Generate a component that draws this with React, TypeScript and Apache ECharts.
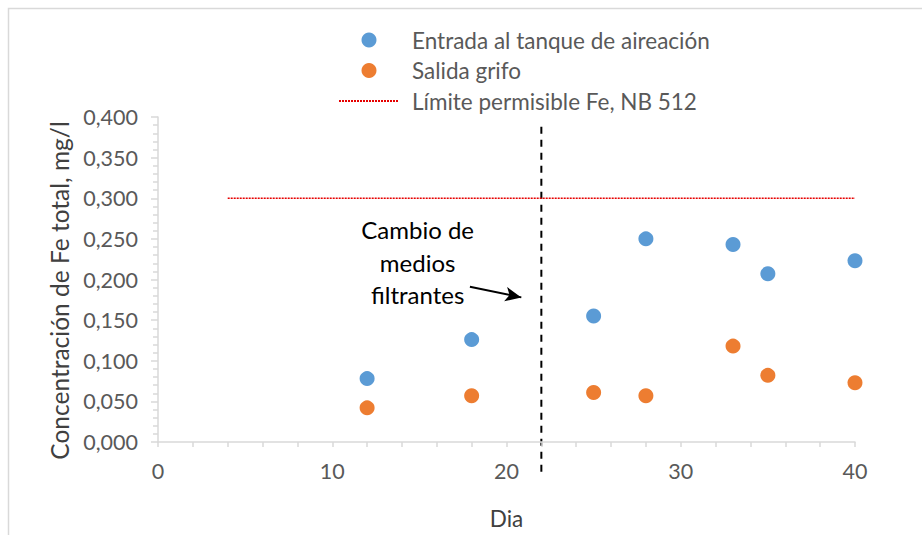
import React, { useEffect, useRef } from "react";
import * as echarts from "echarts";

const days = [12, 18, 25, 28, 33, 35, 40];
const entrada = [0.078, 0.126, 0.155, 0.25, 0.243, 0.207, 0.223];
const salida = [0.042, 0.057, 0.061, 0.057, 0.118, 0.082, 0.073];
const limitX = [4, 40];
const limitY = 0.3;
const cambioDia = 22;
const arrowFrom = [17.9, 0.191];
const arrowTo = [20.85, 0.178];
const annotationLines = ["Cambio de", "medios", "filtrantes"];
const FONT = "Lato";

export default function App() {
  const ref = useRef<HTMLDivElement>(null);
  useEffect(() => {
    if (!ref.current) return;
    const chart = echarts.init(ref.current, null, { renderer: "svg" });
    const fmt = (v: number) => v.toFixed(3).replace(".", ",");
    chart.setOption({
      animation: false,
      textStyle: { fontFamily: FONT },
      grid: { left: 158, right: 67, top: 117, bottom: 93 },
      legend: {
        orient: "vertical",
        left: 333,
        top: 23.5,
        itemWidth: 60,
        itemHeight: 15,
        itemGap: 7.5,
        textStyle: { fontFamily: FONT, fontSize: 22.5, color: "#595959", padding: [0, 0, 0, 8], lineHeight: 18 },
        data: [
          { name: "Entrada al tanque de aireación", icon: "circle" },
          { name: "Salida grifo", icon: "circle" },
          { name: "Límite permisible Fe, NB 512", itemStyle: { opacity: 0 } },
        ],
      },
      xAxis: {
        type: "value",
        min: 0,
        max: 40,
        interval: 10,
        name: "Dia",
        nameLocation: "middle",
        nameGap: 65,
        nameTextStyle: { fontFamily: FONT, fontSize: 22.5, color: "#404040" },
        axisLine: { lineStyle: { color: "#d9d9d9", width: 1.5 } },
        axisTick: { show: true, length: 5, lineStyle: { color: "#d9d9d9", width: 1.5 } },
        minorTick: { show: true, splitNumber: 5, length: 5, lineStyle: { color: "#d9d9d9", width: 1.5 } },
        axisLabel: { fontFamily: FONT, fontSize: 21.5, color: "#595959", margin: 18 },
        splitLine: { show: false },
      },
      yAxis: {
        type: "value",
        min: 0,
        max: 0.4,
        interval: 0.05,
        name: "Concentración de Fe total, mg/l",
        nameLocation: "middle",
        nameGap: 83,
        nameTextStyle: { fontFamily: FONT, fontSize: 24.5, color: "#404040", padding: [0, 22, 0, 0] },
        axisLine: { show: true, lineStyle: { color: "#d9d9d9", width: 1.5 } },
        axisTick: { show: true, length: 7, lineStyle: { color: "#d9d9d9", width: 1.5 } },
        minorTick: { show: true, splitNumber: 5, length: 5, lineStyle: { color: "#d9d9d9", width: 1.5 } },
        axisLabel: { fontFamily: FONT, fontSize: 21.5, color: "#595959", margin: 20, formatter: fmt },
        splitLine: { show: false },
      },
      series: [
        {
          name: "Entrada al tanque de aireación",
          type: "scatter",
          symbol: "circle",
          symbolSize: 15,
          itemStyle: { color: "#5b9bd5", opacity: 1 },
          data: days.map((d, i) => [d, entrada[i]]),
          markLine: {
            silent: true,
            symbol: ["none", "arrow"],
            symbolSize: [11, 16],
            label: { show: false },
            lineStyle: { color: "#000", width: 2, type: "solid" },
            data: [[{ coord: arrowFrom }, { coord: arrowTo }]],
          },
        },
        {
          name: "Salida grifo",
          type: "scatter",
          symbol: "circle",
          symbolSize: 15,
          itemStyle: { color: "#ed7d31", opacity: 1 },
          data: days.map((d, i) => [d, salida[i]]),
        },
        {
          name: "Límite permisible Fe, NB 512",
          type: "line",
          symbol: "none",
          itemStyle: { color: "#e60000" },
          lineStyle: { color: "#e60000", width: 1.5, type: [2, 1] },
          data: limitX.map((x) => [x, limitY]),
        },
      ],
    });

    const top = chart.convertToPixel({ xAxisIndex: 0, yAxisIndex: 0 }, [cambioDia, 0.388]);
    const bottom = chart.convertToPixel({ xAxisIndex: 0, yAxisIndex: 0 }, [cambioDia, -0.038]);
    const txt = chart.convertToPixel({ xAxisIndex: 0, yAxisIndex: 0 }, [14.9, 0.281]);
    chart.setOption({
      graphic: [
        {
          type: "rect",
          silent: true,
          shape: { x: 8.5, y: 8.5, width: 930, height: 560 },
          style: { fill: "none", stroke: "#d9d9d9", lineWidth: 1.5 },
          z: -10,
        },
        {
          type: "line",
          silent: true,
          shape: { x1: top[0], y1: top[1], x2: bottom[0], y2: bottom[1] },
          style: { stroke: "#000", lineWidth: 2, lineDash: [7, 6] },
        },
        {
          type: "text",
          silent: true,
          x: txt[0],
          y: txt[1],
          style: {
            text: annotationLines.join("\n"),
            fontFamily: FONT,
            fontSize: 24,
            lineHeight: 32.5,
            fill: "#000",
            align: "center",
            verticalAlign: "top",
          },
        },
      ],
    });
    return () => chart.dispose();
  }, []);
  return (
    <div
      ref={ref}
      style={{ position: "fixed", left: 0, top: 0, width: 922, height: 535, background: "#fff" }}
    />
  );
}
